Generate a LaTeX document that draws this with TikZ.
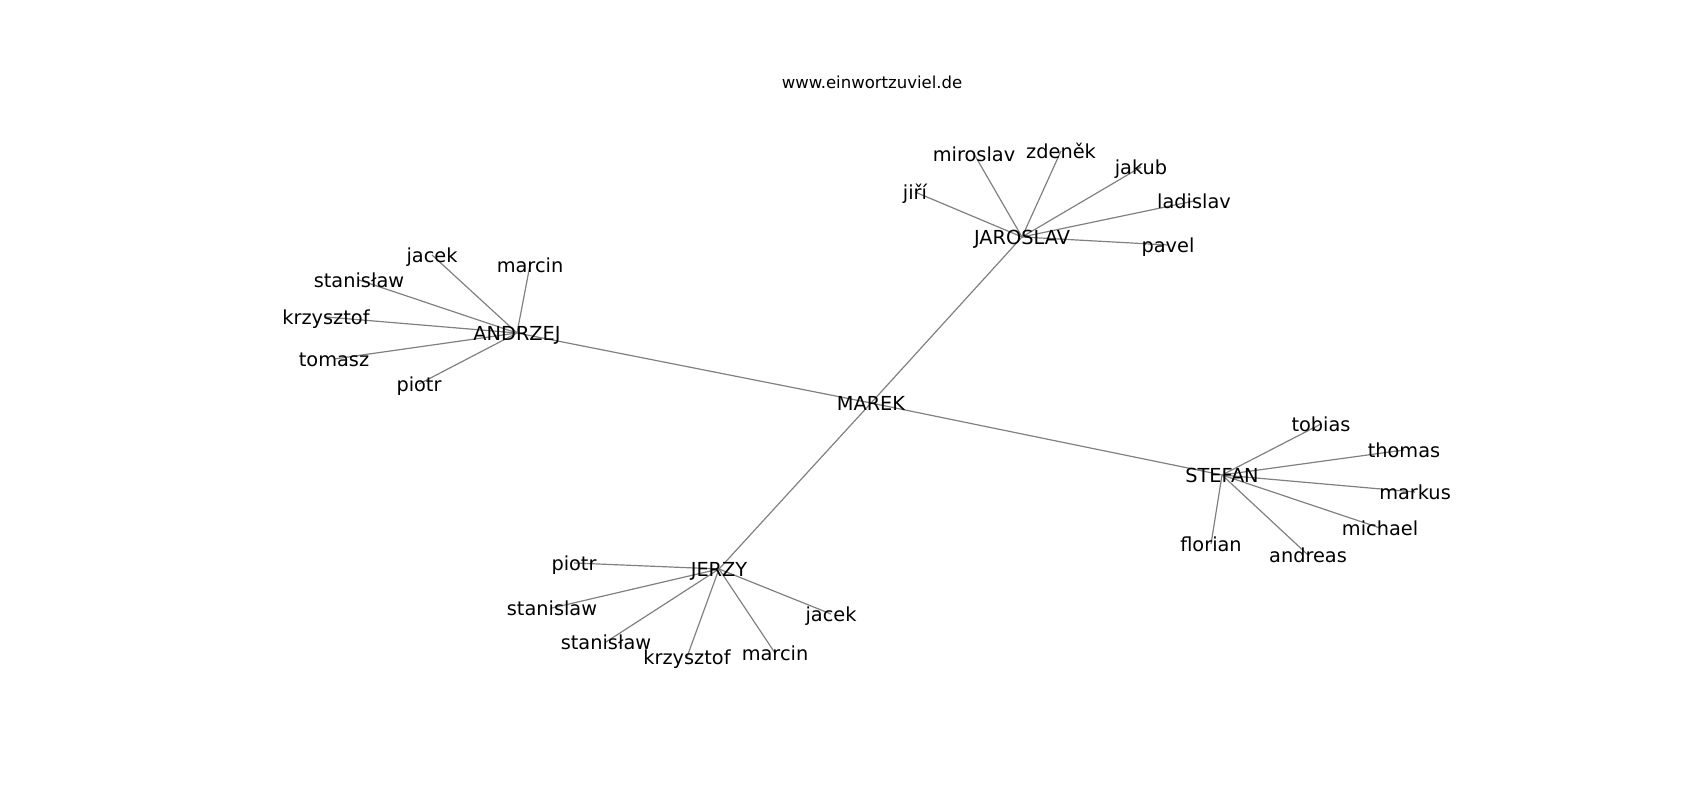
\documentclass[tikz,border=0pt]{standalone}
\usepackage{fontspec}
\newfontfamily\dv{DejaVu Sans}
\usetikzlibrary{backgrounds}
\tikzset{
  lbl/.style={font=\dv\fontsize{5.5pt}{6pt}\selectfont, inner sep=0pt, text height=4.1pt, text depth=0pt, anchor=center},
  ttl/.style={font=\dv\fontsize{4.7pt}{5pt}\selectfont, inner sep=0pt, text height=3.5pt, text depth=0pt, anchor=center},
  edge/.style={draw=black!50, line width=0.34pt}
}
\begin{document}
\begin{tikzpicture}[x=0.1mm,y=-0.1mm]
\useasboundingbox (0,0) rectangle (1700,800);
\node[ttl] (title) at (872,82) {www.einwortzuviel.de};
% hubs
\node[lbl] (marek) at (871,403) {MAREK};
\node[lbl] (jaroslav) at (1022,237) {JAROSLAV};
\node[lbl] (andrzej) at (517,333) {ANDRZEJ};
\node[lbl] (stefan) at (1222,475) {STEFAN};
\node[lbl] (jerzy) at (719,569) {JERZY};
% JAROSLAV
\node[lbl] (miroslav) at (974,154) {miroslav};
\node[lbl] (zdenek) at (1061,151) {zdeněk};
\node[lbl] (jiri) at (915,192) {jiří};
\node[lbl] (jakub) at (1141,167) {jakub};
\node[lbl] (ladislav) at (1194,201) {ladislav};
\node[lbl] (pavel) at (1168,245) {pavel};
% ANDRZEJ
\node[lbl] (ajacek) at (432,255) {jacek};
\node[lbl] (amarcin) at (530,265) {marcin};
\node[lbl] (astanislaw) at (359,280) {stanisław};
\node[lbl] (akrzysztof) at (326,317) {krzysztof};
\node[lbl] (tomasz) at (334,359) {tomasz};
\node[lbl] (apiotr) at (419,384) {piotr};
% STEFAN
\node[lbl] (tobias) at (1321,424) {tobias};
\node[lbl] (thomas) at (1404,450) {thomas};
\node[lbl] (markus) at (1415,492) {markus};
\node[lbl] (michael) at (1380,528) {michael};
\node[lbl] (andreas) at (1308,555) {andreas};
\node[lbl] (florian) at (1211,544) {florian};
% JERZY
\node[lbl] (jpiotr) at (574,563) {piotr};
\node[lbl] (jstanislaw) at (552,608) {stanislaw};
\node[lbl] (jstanislawb) at (606,642) {stanisław};
\node[lbl] (jkrzysztof) at (687,657) {krzysztof};
\node[lbl] (jmarcin) at (775,653) {marcin};
\node[lbl] (jjacek) at (831,614) {jacek};
\begin{scope}[on background layer]
\foreach \h in {jaroslav,andrzej,stefan,jerzy}
  \draw[edge] (marek.center) -- (\h.center);
\foreach \l in {miroslav,zdenek,jiri,jakub,ladislav,pavel}
  \draw[edge] (jaroslav.center) -- (\l.center);
\foreach \l in {ajacek,amarcin,astanislaw,akrzysztof,tomasz,apiotr}
  \draw[edge] (andrzej.center) -- (\l.center);
\foreach \l in {tobias,thomas,markus,michael,andreas,florian}
  \draw[edge] (stefan.center) -- (\l.center);
\foreach \l in {jpiotr,jstanislaw,jstanislawb,jkrzysztof,jmarcin,jjacek}
  \draw[edge] (jerzy.center) -- (\l.center);
\end{scope}
\end{tikzpicture}
\end{document}
